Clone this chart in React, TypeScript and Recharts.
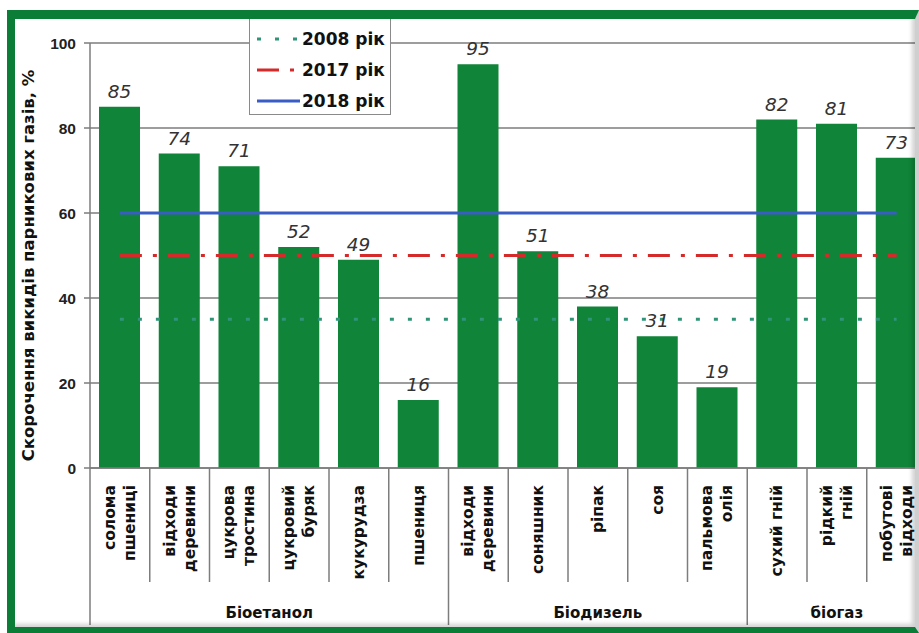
import React from "react";
import {
  ComposedChart,
  Bar,
  Line,
  XAxis,
  YAxis,
  CartesianGrid,
  LabelList,
  Legend,
  Label,
} from "recharts";

const categories = [
  "солома\nпшениці",
  "відходи\nдеревини",
  "цукрова\nтростина",
  "цукровий\nбуряк",
  "кукурудза",
  "пшениця",
  "відходи\nдеревини",
  "соняшник",
  "ріпак",
  "соя",
  "пальмова\nолія",
  "сухий гній",
  "рідкий\nгній",
  "побутові\nвідходи",
];
const groupNames = ["Біоетанол", "Біодизель", "біогаз"];
const groupSizes = [6, 5, 3];
const reductions = [85, 74, 71, 52, 49, 16, 95, 51, 38, 31, 19, 82, 81, 73];
const target2008 = [35, 35, 35, 35, 35, 35, 35, 35, 35, 35, 35, 35, 35, 35];
const target2017 = [50, 50, 50, 50, 50, 50, 50, 50, 50, 50, 50, 50, 50, 50];
const target2018 = [60, 60, 60, 60, 60, 60, 60, 60, 60, 60, 60, 60, 60, 60];
const yTicks = [0, 20, 40, 60, 80, 100];
const yTitle = "Скорочення викидів парникових газів, %";

const data = categories.map((name, i) => ({
  name,
  value: reductions[i],
  y2008: target2008[i],
  y2017: target2017[i],
  y2018: target2018[i],
}));

// layout
const CHART_W = 940;
const CHART_H = 633;
const AXIS_W = 90;
const PLOT_RIGHT = 926.5;
const BAND = (PLOT_RIGHT - AXIS_W) / categories.length;
const GREY = "#7d7d7d";
const GREEN = "#108439";
const FRAME = "#0b7d37";
const BOLD = '"DejaVu Sans", sans-serif';

const groupStarts: number[] = [];
groupSizes.reduce((acc, n) => {
  groupStarts.push(acc);
  return acc + n;
}, 0);

function CategoryTick(props: any) {
  const { x, y, payload, index } = props;
  const lines = String(payload.value).split("\n");
  const left = x - BAND / 2;
  const g = groupStarts.indexOf(index);
  const isLast = index === categories.length - 1;
  return (
    <g>
      <line x1={left} y1={y} x2={left} y2={y + (g >= 0 ? 157 : 114)} stroke={GREY} strokeWidth={1.5} />
      {isLast && (
        <line x1={x + BAND / 2} y1={y} x2={x + BAND / 2} y2={y + 157} stroke={GREY} strokeWidth={1.5} />
      )}
      {lines.map((t, i) => {
        const cx = x + (i - (lines.length - 1) / 2) * 20;
        return (
          <text
            key={i}
            x={cx}
            y={y + 17}
            transform={`rotate(-90 ${cx} ${y + 17})`}
            textAnchor="end"
            dominantBaseline="central"
            fontFamily={BOLD}
            fontWeight="bold"
            fontSize={15.5}
            fill="#111"
          >
            {t}
          </text>
        );
      })}
      {g >= 0 && (
        <text
          x={left + (groupSizes[g] * BAND) / 2}
          y={y + 145}
          textAnchor="middle"
          dominantBaseline="central"
          fontFamily={BOLD}
          fontWeight="bold"
          fontSize={15}
          fill="#111"
        >
          {groupNames[g]}
        </text>
      )}
    </g>
  );
}

function YTitle(props: any) {
  const vb = props.viewBox || {};
  const cy = (vb.y || 43) + (vb.height || 425) / 2 + 10;
  return (
    <text
      x={28}
      y={cy}
      transform={`rotate(-90 28 ${cy})`}
      textAnchor="middle"
      dominantBaseline="central"
      fontFamily={BOLD}
      fontWeight="bold"
      fontSize={16.5}
      fill="#111"
    >
      {yTitle}
    </text>
  );
}

function LegendBox(props: any) {
  const items = (props.payload || []).filter((p: any) => p.type !== "none");
  return (
    <div
      style={{
        width: 142,
        height: 97,
        border: "1px solid #8a8a8a",
        background: "#fff",
        boxSizing: "border-box",
        paddingTop: 4,
      }}
    >
      {items.map((item: any) => (
        <div key={item.value} style={{ height: 31, display: "flex", alignItems: "center" }}>
          <svg width={45} height={10} style={{ marginLeft: 7 }}>
            <line
              x1={0}
              y1={5}
              x2={43}
              y2={5}
              stroke={item.color}
              strokeWidth={3}
              strokeDasharray={item.payload?.strokeDasharray}
            />
          </svg>
          <span style={{ fontFamily: BOLD, fontWeight: "bold", fontSize: 17, color: "#111" }}>
            {item.value}
          </span>
        </div>
      ))}
    </div>
  );
}

export default function App() {
  return (
    <div
      style={{
        position: "fixed",
        left: 0,
        top: 0,
        width: 919,
        height: 633,
        overflow: "hidden",
        background: "#fff",
      }}
    >
      <div style={{ position: "absolute", left: 0, top: 0 }}>
        <ComposedChart
          width={CHART_W}
          height={CHART_H}
          data={data}
          margin={{ top: 43, right: CHART_W - PLOT_RIGHT, bottom: 0, left: 0 }}
          barCategoryGap={0}
        >
          <CartesianGrid vertical={false} stroke={GREY} strokeWidth={1.3} />
          <XAxis
            dataKey="name"
            height={165}
            tickSize={0}
            tickMargin={0}
            interval={0}
            stroke={GREY}
            strokeWidth={1.5}
            tick={<CategoryTick />}
          />
          <YAxis
            width={AXIS_W}
            domain={[0, 100]}
            ticks={yTicks}
            tickSize={6}
            tickMargin={8}
            stroke={GREY}
            strokeWidth={1.5}
            tick={{ fontFamily: "Liberation Sans, Arial", fontWeight: "bold", fontSize: 15.5, fill: "#222" }}
          >
            <Label content={<YTitle />} />
          </YAxis>
          <Bar dataKey="value" fill={GREEN} barSize={41} legendType="none" isAnimationActive={false}>
            <LabelList
              dataKey="value"
              position="top"
              offset={9}
              style={{ fontFamily: '"DejaVu Sans", sans-serif', fontStyle: "italic", fontSize: 18.5, fill: "#333" }}
            />
          </Bar>
          <Line
            dataKey="y2008"
            name="2008 рік"
            stroke="#2f9478"
            strokeWidth={3}
            strokeDasharray="4 14"
            dot={false}
            activeDot={false}
            isAnimationActive={false}
          />
          <Line
            dataKey="y2017"
            name="2017 рік"
            stroke="#d42a2a"
            strokeWidth={3}
            strokeDasharray="22 11 4 11"
            dot={false}
            activeDot={false}
            isAnimationActive={false}
          />
          <Line
            dataKey="y2018"
            name="2018 рік"
            stroke="#3a5cc6"
            strokeWidth={3}
            dot={false}
            activeDot={false}
            isAnimationActive={false}
          />
          <Legend
            layout="vertical"
            align="center"
            verticalAlign="middle"
            content={<LegendBox />}
            wrapperStyle={{ left: 249, top: 18, width: 142, height: 97 }}
          />
        </ComposedChart>
      </div>
      <div
        style={{
          position: "absolute",
          left: 7,
          top: 10,
          width: 912,
          height: 623,
          boxSizing: "border-box",
          borderLeft: `8px solid ${FRAME}`,
          borderTop: `9px solid ${FRAME}`,
          borderBottom: `6px solid ${FRAME}`,
          borderRight: "4px solid #cfcfcf",
          boxShadow: "inset -3px -3px 4px rgba(0,0,0,0.18)",
          pointerEvents: "none",
        }}
      />
    </div>
  );
}
